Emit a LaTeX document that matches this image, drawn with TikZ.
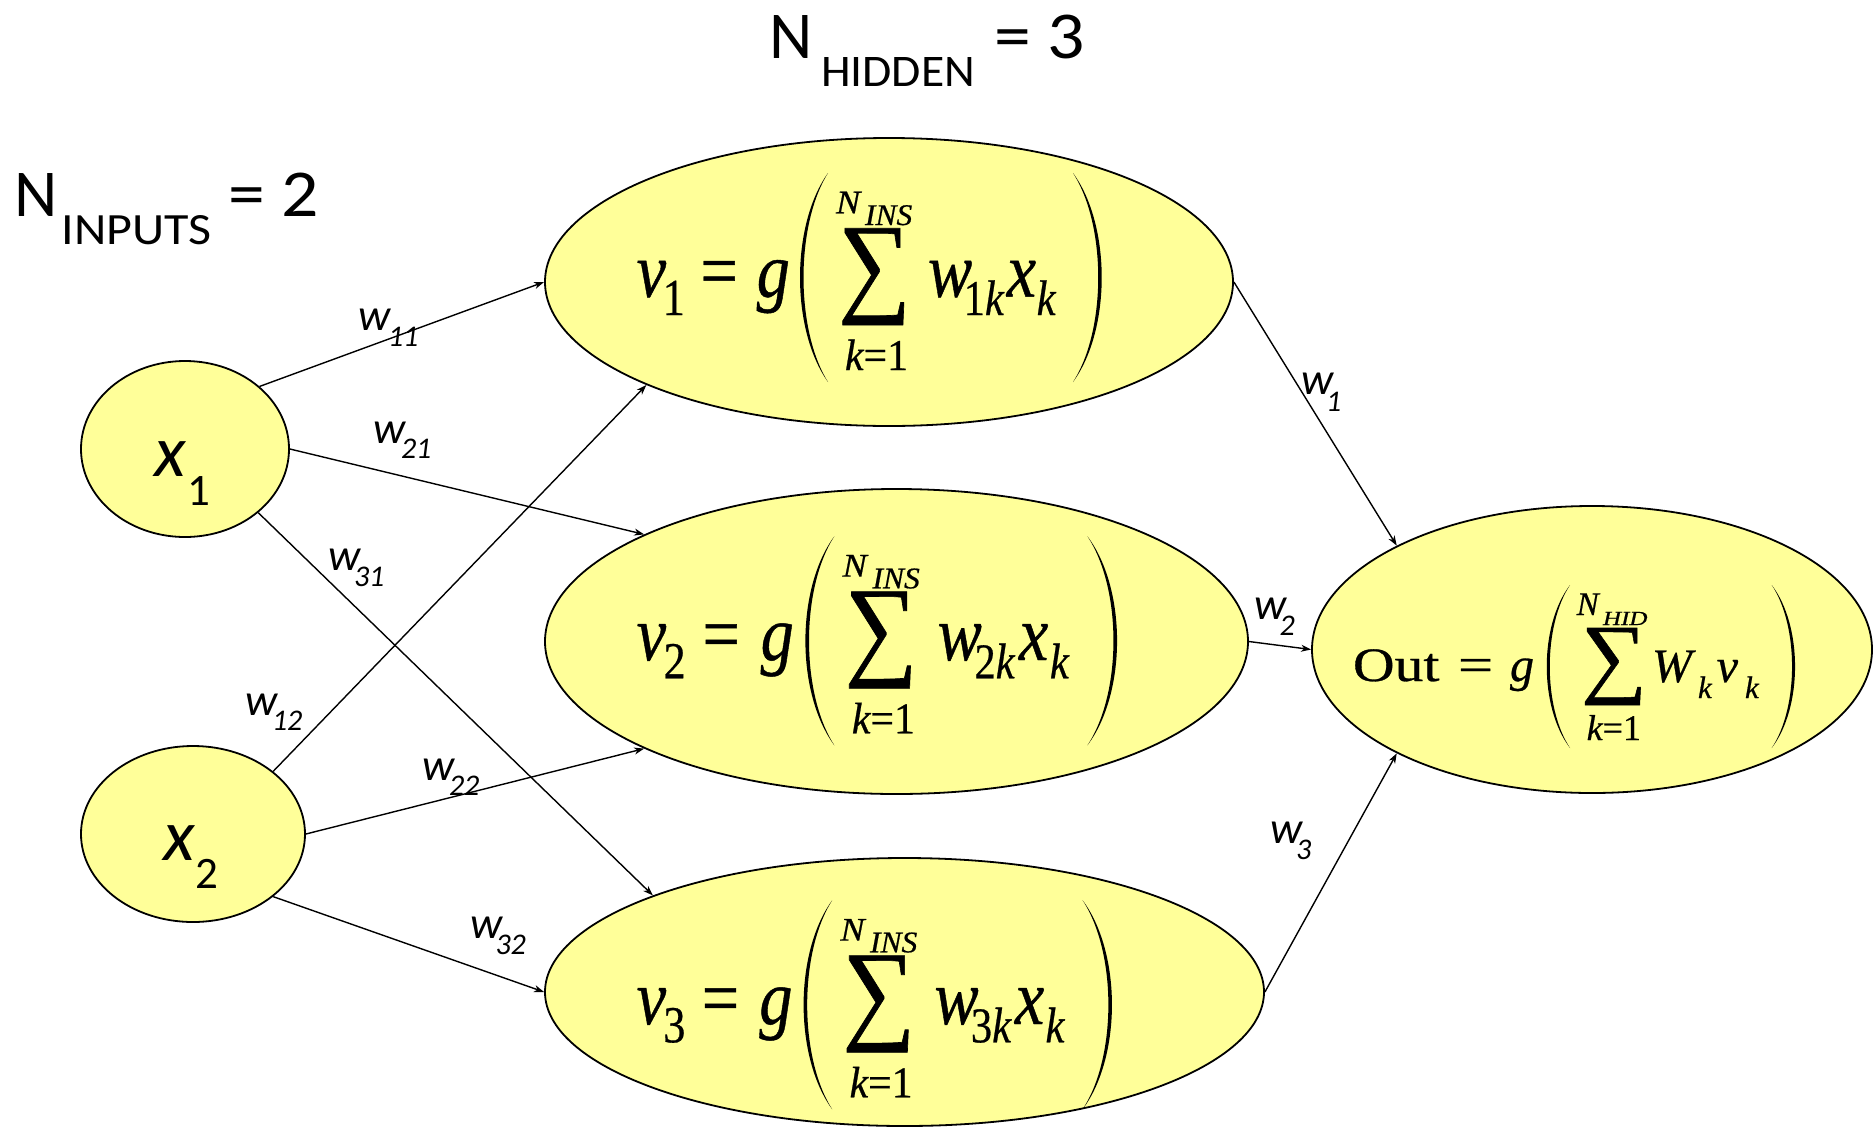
\documentclass[tikz,border=0pt]{standalone}
\usepackage{fontspec}
\usepackage{graphicx}
\usetikzlibrary{shapes.geometric,arrows.meta}
\newfontfamily\calfont{Carlito}
\newfontfamily\tnrfont[FakeBold=0.6]{Liberation Serif}
\definecolor{nodefill}{HTML}{FFFF99}
\newcommand\tn[2]{\fontsize{#1pt}{#1pt}\tnrfont #2}
\newcommand\cf[2]{\fontsize{#1pt}{#1pt}\calfont #2}
\newcommand\wl[3]{\makebox[#1pt][l]{\cf{45}{\itshape w}}\raisebox{-#2pt}{\cf{30}{\itshape #3}}}
\tikzset{
  neuron/.style={ellipse, draw=black, line width=1.8pt, fill=nodefill, inner sep=0pt},
  conn/.style={line width=1.4pt, -{Stealth[length=10pt,width=7pt,inset=3pt]}},
  txt/.style={anchor=base west, inner sep=0pt, outer sep=0pt},
  sumbox/.style={anchor=north west, inner sep=0pt, outer sep=0pt},
}
% tall thin parenthesis: x of ends, y top, y bottom, x of extreme, thickness (signed)
\newcommand\paren[5]{%
 \fill ({#1},{#2}) .. controls ({((#4)-0.25*(#1))/0.75},{(#2)+0.25*((#3)-(#2))}) and ({((#4)-0.25*(#1))/0.75},{(#3)-0.25*((#3)-(#2))}) .. ({#1},{#3})
  .. controls ({((#4)+(#5)-0.25*(#1))/0.75},{(#3)-0.25*((#3)-(#2))}) and ({((#4)+(#5)-0.25*(#1))/0.75},{(#2)+0.25*((#3)-(#2))}) .. ({#1},{#2}) -- cycle;}
% hidden-unit formula: name, origin x, origin y (baseline), index, xscale
\newcommand\hidform[5]{%
\begin{scope}[shift={(#2,#3)}, xscale=#5]
 \node[txt] (#1-v) at (0,0) {\scalebox{.85}[1]{\tn{78}{\itshape v}}};
 \node[txt] (#1-i) at (26,18.3) {\scalebox{.85}[1]{\tn{52}{#4}}};
 \node[txt] (#1-eq) at (63.7,0) {\scalebox{.85}[1]{\tn{78}{=}}};
 \node[txt] (#1-g) at (120,0) {\scalebox{.85}[1]{\tn{78}{\itshape g}}};
 \paren{191.3}{-123.7}{85.3}{163.3}{3.5}
 \node[txt] (#1-N) at (199.3,-83.4) {\scalebox{1.1}[1]{\tn{33}{\itshape N}}};
 \node[txt] (#1-ins) at (228.3,-71.7) {\scalebox{1.05}[1]{\tn{30}{\itshape INS}}};
 \node[sumbox] (#1-sum) at (201.3,-68.4) {\resizebox*{73pt}{96.7pt}{\tnrfont ∑}};
 \node[txt] (#1-lo) at (208.3,73.3) {\scalebox{.95}[1]{\tn{44}{{\itshape k}=1}}};
 \node[txt] (#1-w) at (291.3,0) {\scalebox{.85}[1]{\tn{78}{\itshape w}}};
 \node[txt] (#1-wk) at (327,18.3) {\scalebox{.85}[1]{\tn{50}{#4\itshape k}}};
 \node[txt] (#1-x) at (370,0) {\scalebox{.85}[1]{\tn{78}{\itshape x}}};
 \node[txt] (#1-xk) at (400,18.3) {\scalebox{.85}[1]{\tn{50}{\itshape k}}};
 \paren{436.3}{-123.7}{85.3}{465}{-3.5}
\end{scope}}
\begin{document}
\begin{tikzpicture}[x=1pt,y=-1pt]
\useasboundingbox (0,0) rectangle (1873,1127);
\fill[white] (0,0) rectangle (1873,1127);
% nodes
\node[neuron, minimum width=208pt, minimum height=176pt] (x1) at (185,449) {};
\node[neuron, minimum width=224pt, minimum height=176pt] (x2) at (193,834) {};
\node[neuron, minimum width=688pt, minimum height=288pt] (v1) at (889,282) {};
\node[neuron, minimum width=703pt, minimum height=305pt] (v2) at (896.5,641.5) {};
\node[neuron, minimum width=719pt, minimum height=268pt] (v3) at (904.5,992) {};
\node[neuron, minimum width=560pt, minimum height=287pt] (out) at (1592,649.5) {};
% connectors
\draw[conn] (x1.40) -- (v1.west);
\draw[conn] (x1.east) -- (v2.157);
\draw[conn] (x1.-41) -- (v3.159);
\draw[conn] (x2.38) -- (v1.203);
\draw[conn] (x2.east) -- (v2.203);
\draw[conn] (x2.-38) -- (v3.west);
\draw[conn] (v1.east) -- (out.152);
\draw[conn] (v2.east) -- (out.west);
\draw[conn] (v3.east) -- (out.208);
% titles
\node[txt] (tin) at (14.3,216) {\makebox[47.5pt][l]{\cf{67}{N}}\raisebox{-28pt}{\makebox[166.2pt][l]{\resizebox{150pt}{29pt}{\cf{45}{INPUTS}}}}\scalebox{1.1}[1]{\cf{67}{= 2}}};
\node[txt] (thid) at (769.3,58.3) {\makebox[51.7pt][l]{\cf{67}{N}}\raisebox{-28.4pt}{\makebox[173pt][l]{\resizebox{154pt}{29pt}{\cf{45}{HIDDEN}}}}\scalebox{1.1}[1]{\cf{67}{= 3}}};
% input labels
\node[txt] (lx1) at (154.6,476.7) {\makebox[32.9pt][l]{\cf{73}{\itshape x}}\raisebox{-28.3pt}{\cf{45}{1}}};
\node[txt] (lx2) at (163.6,860) {\makebox[31.4pt][l]{\cf{73}{\itshape x}}\raisebox{-28.3pt}{\cf{45}{2}}};
% weight labels
\node[txt] (lw11) at (358,330) {\wl{30}{16.7}{11}};
\node[txt] (lw21) at (373.6,443.3) {\wl{27.4}{14.7}{21}};
\node[txt] (lw31) at (328,570) {\wl{26}{16}{31}};
\node[txt] (lw12) at (245.7,715) {\wl{26.3}{15.7}{12}};
\node[txt] (lw22) at (422.5,780) {\wl{26.5}{15}{22}};
\node[txt] (lw32) at (470.7,938) {\wl{24.8}{16}{32}};
\node[txt] (lw1) at (1301.7,394.6) {\wl{24.3}{16.4}{1}};
\node[txt] (lw2) at (1254,619) {\wl{25.7}{16.7}{2}};
\node[txt] (lw3) at (1270,843) {\wl{26}{16}{3}};
% hidden formulas
\hidform{f1}{636.7}{296.7}{1}{1}
\hidform{f2}{636.7}{660}{2}{1.033}
\hidform{f3}{636.7}{1024}{3}{1.022}
% output formula
\node[txt] (o-out) at (1353,681) {\scalebox{1.2}[1]{\tn{48}{Out}}};
\node[txt] (o-eq) at (1458,681) {\scalebox{1.3}[1]{\tn{48}{=}}};
\node[txt] (o-g) at (1510,681) {\tn{48}{\itshape g}};
\paren{1570}{585}{748}{1546.7}{3}
\node[txt] (o-N) at (1576.7,615) {\tn{33}{\itshape N}};
\node[txt] (o-hid) at (1603,625) {\scalebox{1.25}[1]{\tn{20}{\itshape HID}}};
\node[sumbox] (o-sum) at (1581,628) {\resizebox*{66pt}{77pt}{\tnrfont ∑}};
\node[txt] (o-lo) at (1586.7,740) {\tn{36}{{\itshape k}=1}};
\node[txt] (o-W) at (1652,682) {\tn{48}{\itshape W}};
\node[txt] (o-k1) at (1698,698) {\tn{31}{\itshape k}};
\node[txt] (o-v) at (1716.7,682) {\tn{48}{\itshape v}};
\node[txt] (o-k2) at (1745,698) {\tn{31}{\itshape k}};
\paren{1771.7}{585}{748}{1795}{-3}
\end{tikzpicture}
\end{document}
